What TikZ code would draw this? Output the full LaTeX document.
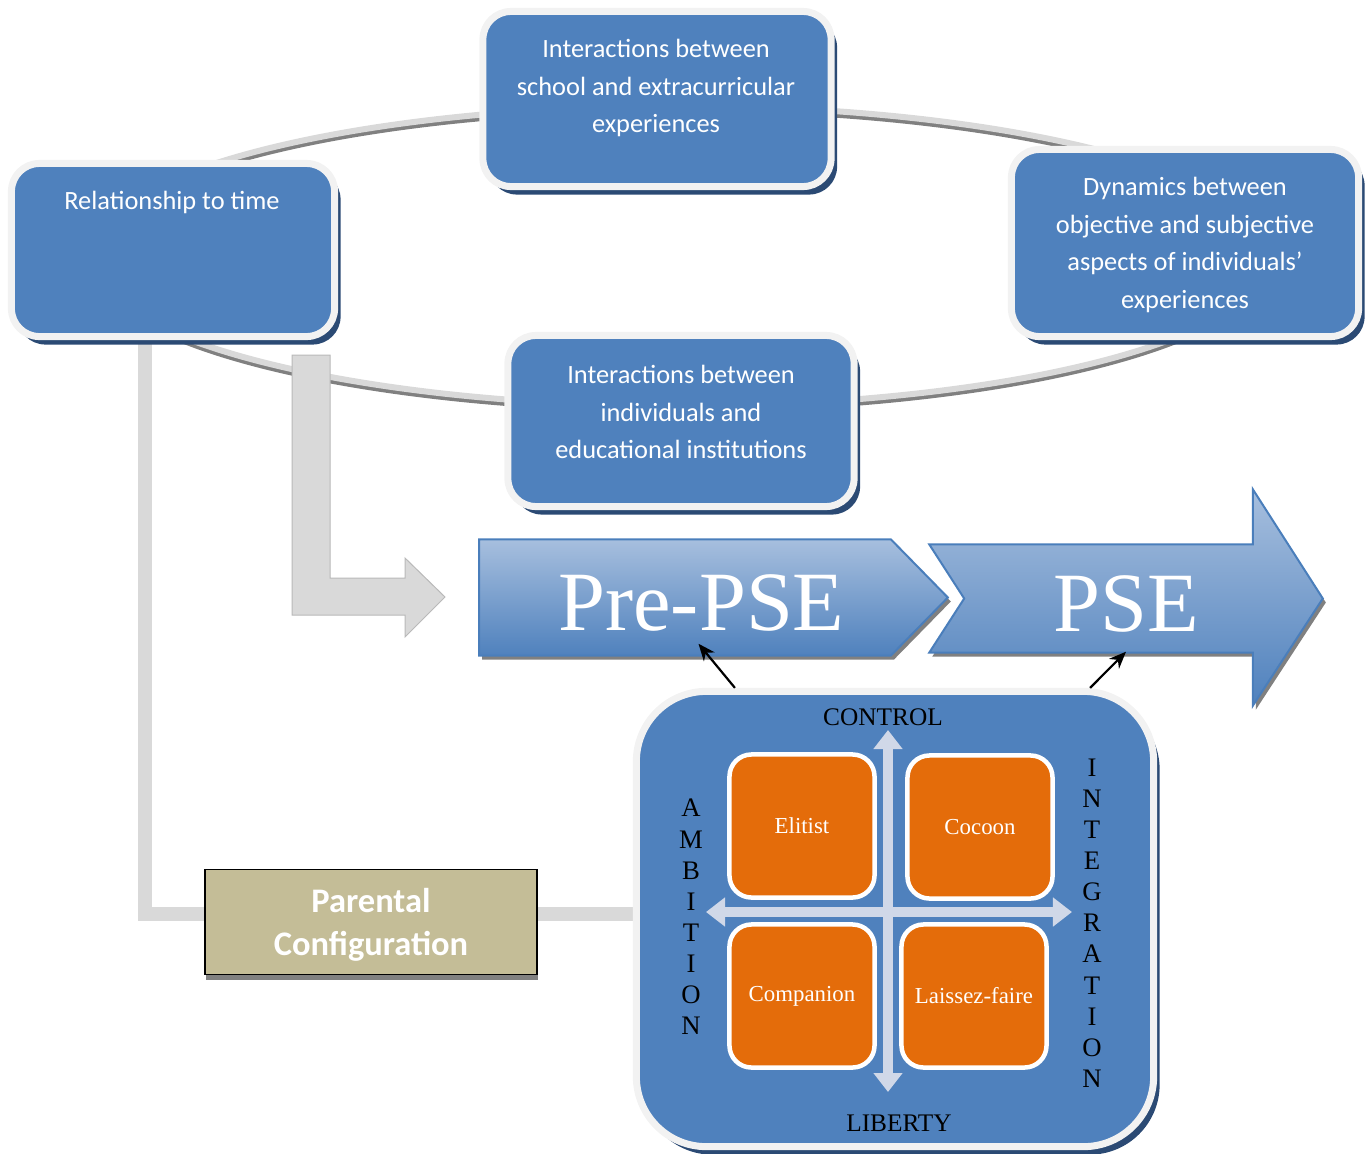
\documentclass[tikz,border=0pt]{standalone}
\usepackage{fontspec}
\setmainfont{Liberation Serif}
\newfontfamily\calibri{Carlito}
\usetikzlibrary{positioning,shadows,arrows.meta}

\definecolor{boxblue}{HTML}{4F81BD}
\definecolor{ringwhite}{HTML}{F2F2F2}
\definecolor{navyshadow}{HTML}{2B4A74}
\definecolor{typeorange}{HTML}{E46C0A}
\definecolor{axiscol}{HTML}{D0D8E8}
\definecolor{parentcol}{HTML}{C4BD97}
\definecolor{bargray}{HTML}{D9D9D9}
\definecolor{arrowtop}{HTML}{A7BFDE}
\definecolor{arrowedge}{HTML}{4A7EBB}

\pgfdeclarelayer{back}
\pgfsetlayers{back,main}

\tikzset{
  bluebox/.style={draw=ringwhite, line width=0.07cm, fill=boxblue, rounded corners=0.28cm,
    inner sep=0pt, drop shadow={shadow xshift=0.06cm, shadow yshift=-0.08cm, fill=navyshadow, opacity=1}},
  themetext/.style={text=white, font=\calibri\fontsize{7.5}{10.7}\selectfont, align=center, inner sep=0pt},
  typebox/.style={draw=white, line width=0.045cm, fill=typeorange, rounded corners=0.22cm,
    minimum width=1.45cm, minimum height=1.43cm, text=white, font=\fontsize{6.5}{8}\selectfont},
  axislbl/.style={font=\fontsize{7.2}{8.85}\selectfont, align=center, inner sep=0pt},
  letterlbl/.style={font=\fontsize{7.6}{8.85}\selectfont, align=center, inner sep=0pt},
  graybar/.style={bargray, line width=0.14cm},
  axisarrow/.style={axiscol, line width=0.1cm,
    {Triangle[width=0.28cm,length=0.19cm]}-{Triangle[width=0.28cm,length=0.19cm]}},
  pointer/.style={-{Stealth[length=0.17cm,width=0.14cm]}, line width=0.022cm},
  phase/.style={top color=arrowtop, bottom color=boxblue, draw=arrowedge, line width=0.02cm,
    drop shadow={shadow xshift=0.03cm, shadow yshift=-0.04cm, fill=gray, opacity=1}},
  phasetext/.style={text=white, font=\fontsize{24}{24}\selectfont, inner sep=0pt},
  parentbox/.style={draw=black, line width=0.015cm, fill=parentcol, minimum width=3.32cm,
    minimum height=1.05cm, text=white, align=center, text depth=0pt,
    font=\calibri\bfseries\fontsize{9.8}{12.3}\selectfont,
    drop shadow={shadow xshift=0.01cm, shadow yshift=-0.05cm, fill=gray, opacity=1}},
}

\begin{document}
\begin{tikzpicture}[x=0.01cm, y=-0.01cm]
\useasboundingbox (0,0) rectangle (1369,1154);

% ring behind the themes
\draw[gray, line width=0.05cm] (680,260) ellipse [x radius=5.9cm, y radius=1.5cm];
\draw[bargray, line width=0.06cm] (680,256) ellipse [x radius=5.9cm, y radius=1.5cm];

% time arrow
\filldraw[fill=bargray, draw=gray!55, line width=0.01cm] (292,355) -- (330,355) -- (330,578)
  -- (405,578) -- (405,558) -- (445,597) -- (405,637) -- (405,615) -- (292,615) -- cycle;

% themes
\node[bluebox, minimum width=3.23cm, minimum height=1.73cm] (time) at (173,250) {};
\node[themetext] (timetxt) at (172,202) {Relationship to time};

\node[bluebox, minimum width=3.48cm, minimum height=1.75cm] (school) at (657,99) {};
\node[themetext] (schooltxt) at (656,88) {Interactions between\\school and extracurricular\\experiences};

\node[bluebox, minimum width=3.47cm, minimum height=1.87cm] (dynamics) at (1185,243) {};
\node[themetext] (dynamicstxt) at (1185,245) {Dynamics between\\objective and subjective\\aspects of individuals’\\experiences};

\node[bluebox, minimum width=3.46cm, minimum height=1.71cm] (institutions) at (681,421) {};
\node[themetext] (institutionstxt) at (681,412) {Interactions between\\individuals and\\educational institutions};

% phases
\node[minimum width=4.67cm, minimum height=1.15cm, inner sep=0pt] (pre) at (713.5,597.5) {};
\shade[phase] (pre.north west) -- ([xshift=-0.57cm]pre.north east) -- (pre.east)
  -- ([xshift=-0.57cm]pre.south east) -- (pre.south west) -- cycle;
\node[phasetext] (pretxt) at ([xshift=-0.12cm,yshift=-0.05cm]pre.center) {Pre-PSE};

\node[minimum width=3.92cm, minimum height=1.07cm, inner sep=0pt] (pse) at (1126,598.5) {};
\shade[phase] (pse.north west) -- ([xshift=-0.7cm]pse.north east)
  -- ([xshift=-0.7cm,yshift=0.55cm]pse.north east) -- (pse.east)
  -- ([xshift=-0.7cm,yshift=-0.53cm]pse.south east) -- ([xshift=-0.7cm]pse.south east)
  -- (pse.south west) -- ([xshift=0.35cm]pse.west) -- cycle;
\node[phasetext] (psetxt) at ([yshift=-0.05cm]pse.center) {PSE};

% parental configurations
\node[bluebox, minimum width=5.17cm, minimum height=4.55cm, rounded corners=0.7cm] (quad) at (895,919) {};

\coordinate (axtop) at (888,730);
\coordinate (axbottom) at (888,1092);
\coordinate (axleft) at (706,912);
\coordinate (axright) at (1072,912);
\draw[axisarrow] (axtop) -- (axbottom);
\draw[axisarrow] (axleft) -- (axright);

\node[typebox] (elitist) at (802,826) {Elitist};
\node[typebox] (cocoon) at (980,827) {Cocoon};
\node[typebox] (companion) at (802,996) {Companion};
\node[typebox] (laissez) at (974,996) {Laissez-faire};

\node[axislbl] (control) at (883,717) {CONTROL};
\node[axislbl] (liberty) at (899,1123) {LIBERTY};
\node[letterlbl] (ambition) at (691,917) {A\\M\\B\\I\\T\\I\\O\\N};
\node[letterlbl] (integration) at (1092,923) {I\\N\\T\\E\\G\\R\\A\\T\\I\\O\\N};

\draw[pointer] ([xshift=-1.6cm]quad.north) -- ([xshift=-0.15cm,yshift=0.12cm]pre.south);
\draw[pointer] ([xshift=1.95cm]quad.north) -- ([yshift=0.01cm]pse.south);

\node[parentbox] (parent) at (371,922) {Parental\\Configuration};

\begin{pgfonlayer}{back}
  \draw[graybar] ([xshift=-0.28cm]time.south) |- ([yshift=0.08cm]parent.west);
  \draw[graybar] ([yshift=0.08cm]parent.east) -- ++(0.96cm,0);
\end{pgfonlayer}

\end{tikzpicture}
\end{document}
